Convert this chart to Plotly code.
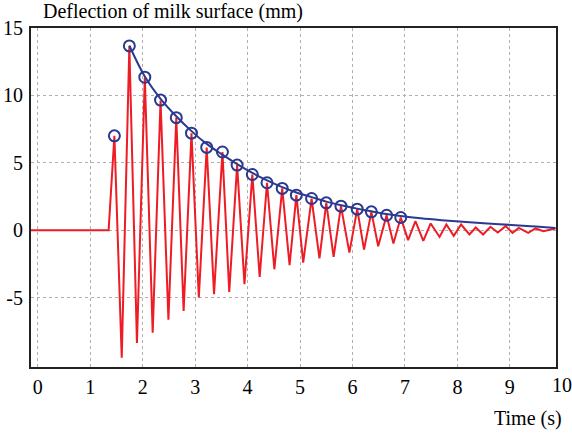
import plotly.graph_objects as go

# Red signal: flat start then alternating peaks / troughs
sig_t = [-0.13, 1.35, 1.46, 1.60, 1.745, 1.89, 2.04, 2.19, 2.34, 2.49, 2.64, 2.78, 2.93, 3.07,
         3.22, 3.36, 3.52, 3.65, 3.80, 3.94, 4.09, 4.23, 4.37, 4.51, 4.66, 4.80, 4.93, 5.06,
         5.22, 5.37, 5.50, 5.64, 5.78, 5.94, 6.09, 6.22, 6.36, 6.49, 6.65, 6.78, 6.92, 7.06,
         7.20, 7.35, 7.49, 7.66, 7.79, 7.93, 8.07, 8.23, 8.35, 8.49, 8.63, 8.77, 8.92, 9.05,
         9.17, 9.35, 9.49, 9.64, 9.87]
sig_y = [0, 0, 7.0, -9.46, 13.67, -8.37, 11.32, -7.6, 9.61, -6.64, 8.35, -5.99, 7.18, -5.0,
         6.14, -4.75, 5.79, -4.58, 4.83, -4.0, 4.13, -3.47, 3.52, -2.9, 3.1, -2.6, 2.6, -2.4,
         2.35, -2.1, 2.03, -1.98, 1.78, -1.66, 1.56, -1.44, 1.36, -1.19, 1.11, -0.99, 0.94, -0.74,
         0.67, -0.79, 0.5, -0.5, 0.42, -0.42, 0.42, -0.32, 0.2, -0.32, 0.25, -0.17, 0.3, -0.2,
         0.17, -0.2, 0.13, -0.07, 0.13]

# Peak markers (circles)
peak_t = [1.46, 1.745, 2.04, 2.34, 2.64, 2.93, 3.22, 3.52, 3.80, 4.09, 4.37, 4.66, 4.93,
          5.22, 5.50, 5.78, 6.09, 6.36, 6.65, 6.92]
peak_y = [7.0, 13.67, 11.35, 9.65, 8.35, 7.2, 6.14, 5.8, 4.83, 4.13, 3.52, 3.1, 2.6,
          2.35, 2.03, 1.78, 1.56, 1.36, 1.11, 0.94]

# Blue envelope
env_t = [1.745, 2.04, 2.34, 2.64, 2.93, 3.22, 3.52, 3.80, 4.09, 4.37, 4.66, 4.93, 5.22,
         5.50, 5.78, 6.09, 6.36, 6.65, 6.92, 7.3, 7.7, 8.1, 8.5, 9.1, 9.5, 9.87]
env_y = [13.7, 11.4, 9.75, 8.45, 7.35, 6.4, 5.6, 4.9, 4.25, 3.7, 3.2, 2.8, 2.45,
         2.12, 1.85, 1.6, 1.4, 1.2, 1.05, 0.88, 0.74, 0.62, 0.52, 0.37, 0.27, 0.16]

x_ticks = [0, 1, 2, 3, 4, 5, 6, 7, 8, 9]
y_ticks = [15, 10, 5, 0, -5]
y_tick_text = ["15", "10", "5", "0", "-5"]
x_end_label = "10"

RED = "#ee1c25"
BLUE = "#2b3990"
FONT = "Liberation Serif, Times New Roman, Times, serif"
FS = 20

fig = go.Figure()
fig.add_trace(go.Scatter(x=sig_t, y=sig_y, mode="lines",
                         line=dict(color=RED, width=2), showlegend=False))
fig.add_trace(go.Scatter(x=env_t, y=env_y, mode="lines",
                         line=dict(color=BLUE, width=2, shape="spline"), showlegend=False))
fig.add_trace(go.Scatter(x=peak_t, y=peak_y, mode="markers",
                         marker=dict(symbol="circle-open", size=11, color=BLUE,
                                     line=dict(width=2, color=BLUE)),
                         showlegend=False))

fig.update_layout(
    width=572, height=434,
    margin=dict(l=31, r=16, t=28, b=67, autoexpand=False),
    paper_bgcolor="white", plot_bgcolor="white",
    font=dict(family=FONT, size=FS, color="black"),
    xaxis=dict(range=[-0.13, 9.88], tickvals=x_ticks, showgrid=True,
               gridcolor="#b0b0b0", griddash="dot", gridwidth=1, automargin=False,
               zeroline=False, showline=True, linecolor="#222222", linewidth=2,
               mirror=True, ticks="", ticklabelstandoff=1),
    yaxis=dict(range=[-10.15, 15], tickvals=y_ticks, ticktext=y_tick_text, showgrid=True,
               gridcolor="#b0b0b0", griddash="dot", gridwidth=1, automargin=False,
               zeroline=False, showline=True, linecolor="#222222", linewidth=2,
               mirror=True, ticks="", ticklabelstandoff=2),
    annotations=[
        dict(text="Deflection of milk surface (mm)", xref="paper", yref="paper",
             x=0, xshift=10, y=1, yshift=3, xanchor="left", yanchor="bottom",
             showarrow=False, font=dict(family=FONT, size=FS)),
        dict(text=x_end_label, xref="paper", yref="paper", x=1, xshift=6, y=0, yshift=-5,
             xanchor="center", yanchor="top", showarrow=False,
             font=dict(family=FONT, size=FS)),
        dict(text="Time (s)", xref="paper", yref="paper", x=1, xshift=8, y=0, yshift=-38,
             xanchor="right", yanchor="top", showarrow=False,
             font=dict(family=FONT, size=FS)),
    ],
)

fig.write_html("out.html", config={"displayModeBar": False},
               post_script="document.body.style.margin='0';")
